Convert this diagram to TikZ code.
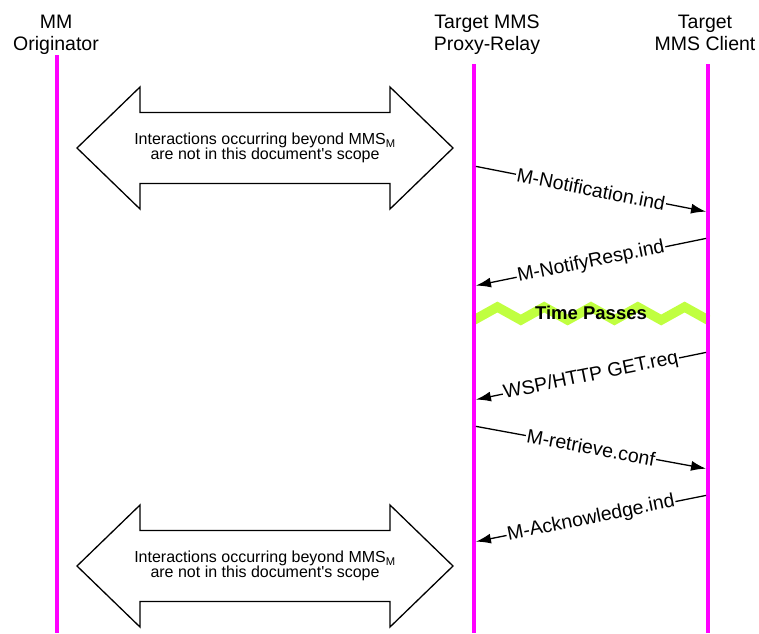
\documentclass[tikz,border=0pt]{standalone}
\usepackage{fontspec}
\setmainfont{Liberation Sans}
\usetikzlibrary{arrows.meta,calc}
\definecolor{lifeline}{RGB}{255,0,255}
\definecolor{timegreen}{RGB}{192,255,64}
\def\labelfont{\fontsize{19.5}{22}\selectfont}

\begin{document}
\begin{tikzpicture}[x=1pt,y=-1pt,
  head/.style={align=center,anchor=north,inner sep=0pt,font=\labelfont},
  lifeline/.style={draw=lifeline,line width=4pt},
  msg/.style={line width=1.3pt,shorten <=2pt,shorten >=2pt,
    -{Latex[length=15pt,width=10pt]}},
  msglabel/.style={sloped,midway,fill=white,inner sep=1pt,font=\labelfont},
  scopearrow/.style={draw,line width=1.3pt,fill=white},
  scopetext/.style={align=center,inner sep=0pt,font=\fontsize{16}{15}\selectfont},
  timepass/.style={draw=timegreen,line width=9.5pt}]
  \useasboundingbox (0,0) rectangle (759,633);

  % participants
  \node[head] (orig) at (56,15) {MM\\Originator};
  \node[head] (proxy) at (487,15) {Target MMS\\Proxy-Relay};
  \node[head] (client) at (705,15) {Target\\MMS Client};
  \coordinate (origT) at (57,55);    \coordinate (origB) at (57,633);
  \coordinate (proxyT) at (474,64);  \coordinate (proxyB) at (474,633);
  \coordinate (clientT) at (708,64); \coordinate (clientB) at (708,633);

  % time passes
  \draw[timepass] (proxyT |- 0,320) \foreach \k in {1,...,5} {
    -- ++(23.4,-13) -- ++(23.4,13) };
  \node[font=\bfseries\fontsize{18.5}{20}\selectfont] (tp) at (591,313) {Time Passes};

  % lifelines
  \draw[lifeline] (origT) -- (origB);
  \draw[lifeline] (proxyT) -- (proxyB);
  \draw[lifeline] (clientT) -- (clientB);

  % messages
  \draw[msg] (proxyT |- 0,166) -- node[msglabel] {M-Notification.ind} (clientT |- 0,212);
  \draw[msg] (clientT |- 0,238) -- node[msglabel] {M-NotifyResp.ind} (proxyT |- 0,286);
  \draw[msg] (clientT |- 0,352) -- node[msglabel] {WSP/HTTP GET.req} (proxyT |- 0,400);
  \draw[msg] (proxyT |- 0,426) -- node[msglabel] {M-retrieve.conf} (clientT |- 0,469);
  \draw[msg] (clientT |- 0,495) -- node[msglabel] {M-Acknowledge.ind} (proxyT |- 0,542);

  % out of scope
  \coordinate (scopeA) at (265,148);
  \coordinate (scopeB) at (265,566);
  \foreach \c in {scopeA,scopeB} {
    \draw[scopearrow,shift={(\c)}] (-188,0) -- (-125,-61) -- (-125,-35.5)
      -- (125,-35.5) -- (125,-61) -- (188,0) -- (125,61) -- (125,35.5)
      -- (-125,35.5) -- (-125,61) -- cycle;
    \node[scopetext] (\c txt) at (\c)
      {Interactions occurring beyond MMS\textsubscript{M}\\are not in this document\textquotesingle s scope};
  }
\end{tikzpicture}
\end{document}
